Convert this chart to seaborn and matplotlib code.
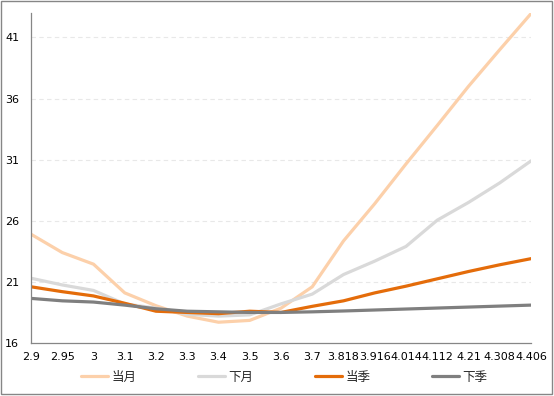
import matplotlib
matplotlib.use("Agg")
import matplotlib.pyplot as plt
import matplotlib.patches as mpatches
import seaborn as sns
import pandas as pd

categories = ["2.9", "2.95", "3", "3.1", "3.2", "3.3", "3.4", "3.5", "3.6", "3.7",
              "3.818", "3.916", "4.014", "4.112", "4.21", "4.308", "4.406"]
cur_month = [24.9, 23.4, 22.45, 20.1, 19.05, 18.2, 17.7, 17.85, 18.85, 20.6,
             24.35, 27.4, 30.65, 33.8, 37.0, 40.0, 42.95]
next_month = [21.3, 20.75, 20.3, 19.2, 18.85, 18.35, 18.2, 18.3, 19.2, 20.0,
              21.6, 22.7, 23.9, 26.05, 27.5, 29.1, 30.9]
cur_quarter = [20.6, 20.2, 19.85, 19.25, 18.6, 18.5, 18.4, 18.6, 18.5, 19.0,
               19.45, 20.1, 20.65, 21.25, 21.85, 22.4, 22.9]
next_quarter = [19.65, 19.45, 19.35, 19.1, 18.8, 18.6, 18.55, 18.5, 18.5, 18.55,
                18.62, 18.7, 18.78, 18.86, 18.94, 19.02, 19.1]
series_names = ["当月", "下月", "当季", "下季"]
y_ticks = [16, 21, 26, 31, 36, 41]

colors = ["#FCD0AA", "#D9D9D9", "#E46C0A", "#7F7F7F"]

sns.set_style("white")
plt.rcParams["font.family"] = ["DejaVu Sans", "Noto Sans CJK SC"]

rows = []
for name, vals in zip(series_names, [cur_month, next_month, cur_quarter, next_quarter]):
    for i, v in enumerate(vals):
        rows.append({"idx": i, "value": v, "series": name})
df = pd.DataFrame(rows)

fig = plt.figure(figsize=(5.54, 3.96), dpi=100)
ax = fig.add_axes([31 / 554, 53 / 396, 500 / 554, 330 / 396])

sns.lineplot(data=df, x="idx", y="value", hue="series", hue_order=series_names,
             palette=colors, linewidth=2.3, ax=ax, legend=False, sort=False)

ax.set_xlim(0, len(categories) - 1)
ax.set_ylim(16, 43)
ax.set_xticks(range(len(categories)))
ax.set_xticklabels(categories, fontsize=8)
ax.set_yticks(y_ticks)
ax.set_yticklabels([str(t) for t in y_ticks], fontsize=8)
ax.set_xlabel("")
ax.set_ylabel("")

for t in y_ticks[1:]:
    ax.axhline(t, color="#E8E8E8", lw=0.8, ls=(0, (4, 3)), zorder=0)

for s in ["top", "right"]:
    ax.spines[s].set_visible(False)
for s in ["left", "bottom"]:
    ax.spines[s].set_color("#868686")
    ax.spines[s].set_linewidth(0.9)
ax.tick_params(axis="both", direction="out", length=3, width=0.9, color="#868686",
               labelcolor="#000000")
ax.tick_params(axis="y", pad=5.5)
ax.tick_params(axis="x", pad=3.5)

handles = [plt.Line2D([0], [0], color=c, lw=2.3) for c in colors]
fig.legend(handles, series_names, loc="center", bbox_to_anchor=(284 / 554, 19 / 396),
           ncol=4, frameon=False, fontsize=9, handlelength=2.2, handletextpad=0.25,
           columnspacing=4.9)

border = mpatches.Rectangle((0.5 / 554, 2 / 396), 551 / 554, 393 / 396,
                            transform=fig.transFigure, fill=False,
                            edgecolor="#868686", lw=1.0)
fig.patches.append(border)

fig.savefig("out.png", dpi=100)
